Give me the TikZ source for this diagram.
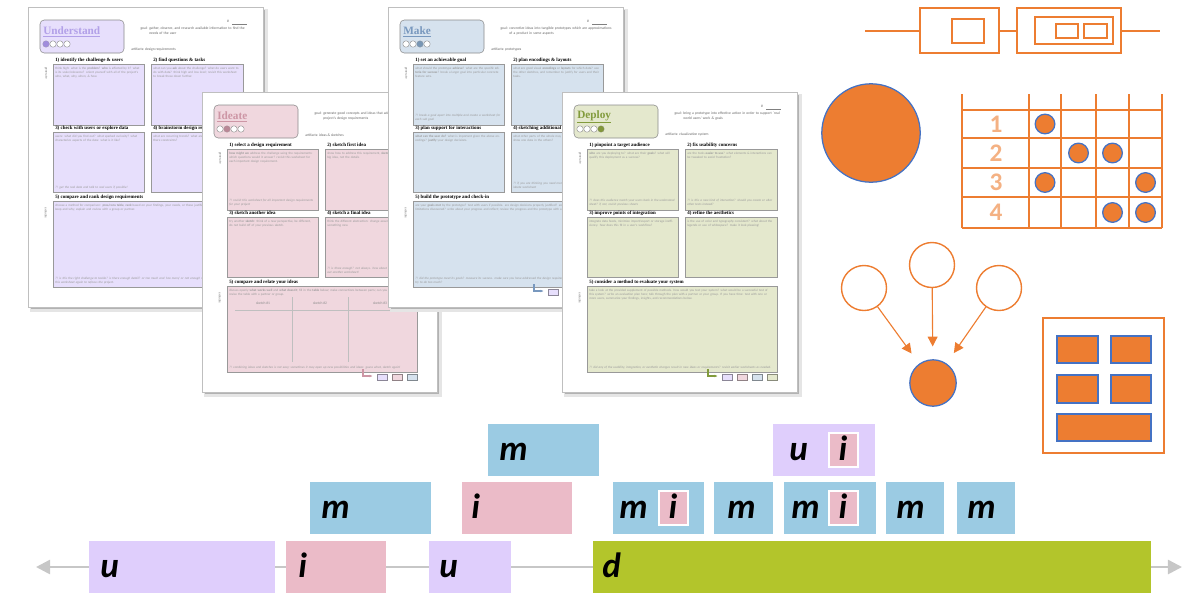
\documentclass[tikz,border=0pt]{standalone}
\usepackage{fontspec}
\newfontfamily\xcal{Carlito}
\newfontfamily\xser{Liberation Serif}
\usepackage{tikz}
\usetikzlibrary{arrows.meta, positioning}
\usepackage{xcolor}
\definecolor{xorange}{RGB}{237,125,49}
\definecolor{xorangelt}{RGB}{244,177,131}
\definecolor{xblue}{RGB}{68,114,196}
\definecolor{xlav}{RGB}{223,206,252}
\definecolor{xpink}{RGB}{235,187,200}
\definecolor{xsky}{RGB}{155,203,227}
\definecolor{xlime}{RGB}{179,197,43}
\definecolor{ubox}{RGB}{231,223,252}
\definecolor{udark}{RGB}{178,160,232}
\definecolor{udot}{RGB}{160,140,220}
\definecolor{ibox}{RGB}{240,215,222}
\definecolor{idark}{RGB}{205,150,165}
\definecolor{idot}{RGB}{185,135,150}
\definecolor{mbox}{RGB}{214,226,238}
\definecolor{mdark}{RGB}{120,152,190}
\definecolor{mdot}{RGB}{120,150,180}
\definecolor{dbox}{RGB}{228,232,205}
\definecolor{ddark}{RGB}{130,155,60}
\definecolor{ddot}{RGB}{130,150,60}
% one worksheet page, drawn inside a shifted scope
\newcommand{\xsheet}[6]{% id, colour prefix, title, filled dot, goal, artifacts
    \fill[black!10] (2,2) rectangle (240,305);
    \fill[black!30] (3,3) rectangle (237,302);
    \filldraw[fill=white, draw=black!25, line width=0.3pt] (0,0) rectangle (235,300);
    \filldraw[fill=#2box, draw=black!45, line width=0.4pt, rounded corners=3pt] (12,13) rectangle (96,46);
    \node[sheettitle, text=#2dark] (#1-title) at (15,25) {\underline{#3}};
    \foreach \k in {1,...,4}
        \filldraw[draw=black!45, line width=0.3pt, fill=white] (11+\k*7,37) circle[radius=3.2];
    \fill[#2dot] (11+#4*7,37) circle[radius=3.2];
    \node[sheetgoal, anchor=north east] (#1-goallab) at (120,20) {goal:};
    \node[sheetgoal, anchor=north west, text width=2.6cm] (#1-goal) at (121,20) {#5};
    \node[sheetgoal, anchor=west] (#1-art) at (103,43) {artifacts:\ #6};
    \node[sheetgoal] (#1-num) at (200,14) {\#};
    \draw[black!50, line width=0.3pt] (204,17) -- (219,17);
    \filldraw[fill=#2box, draw=black!40, line width=0.5pt] (25,57) rectangle (116,118);
    \filldraw[fill=#2box, draw=black!40, line width=0.5pt] (123,57) rectangle (215,118);
    \filldraw[fill=#2box, draw=black!40, line width=0.5pt] (25,125) rectangle (116,185);
    \filldraw[fill=#2box, draw=black!40, line width=0.5pt] (123,125) rectangle (215,185);
    \filldraw[fill=#2box, draw=black!40, line width=0.5pt] (25,194) rectangle (215,280);
    \node[sheetside] (#1-gen) at (18,66) {generate};
    \node[sheetside] (#1-eval) at (18,206) {evaluate};
}
\newcommand{\xheads}[6]{% id, five headings
    \node[sheethead] (#1-h1) at (27,53) {#2};
    \node[sheethead] (#1-h2) at (125,53) {#3};
    \node[sheethead] (#1-h3) at (27,121.5) {#4};
    \node[sheethead] (#1-h4) at (125,121.5) {#5};
    \node[sheethead] (#1-h5) at (27,190.5) {#6};
}
\newcommand{\xlinks}[2]{% colour prefix, number of boxes
    \pgfmathsetmacro{\linkx}{220-15*#2}%
    \draw[#1dark, line width=0.8pt, -{Latex[length=2.5pt]}] (\linkx-14,277) |- (\linkx-4,284);
    \foreach \c [count=\k] in {ubox,ibox,mbox,dbox}{%
        \ifnum\k>#2\relax\else
            \filldraw[fill=\c, draw=\c!60!black, line width=0.3pt] (\linkx+\k*15-15,282) rectangle +(10,6);
        \fi
    }
}
% one bar of the timeline
\newcommand{\xbar}[7]{% name, left, top, right, colour, letter, letter offset
    \fill[#5] (#2,#3) rectangle (#4,#3+52);
    \node[tlletter] (#1) at (#2+#7,#3+36) {#6};
}
\newcommand{\xinner}[3]{% name, left, top
    \filldraw[fill=xpink, draw=white, line width=1.6pt] (#2,#3+9) rectangle (#2+29,#3+43);
    \node[tlletter, anchor=base] (#1) at (#2+14,#3+36) {i};
}

\begin{document}
\begin{tikzpicture}[x=0.025cm, y=-0.025cm,
    sheettitle/.style={anchor=west, inner sep=0pt, font=\xser\bfseries\fontsize{8}{9}\selectfont},
    sheethead/.style={anchor=west, inner sep=0pt, font=\xser\bfseries\fontsize{3.5}{4}\selectfont},
    sheetgoal/.style={inner sep=0pt, text=black!60, align=left, font=\xcal\fontsize{2.6}{3.1}\selectfont},
    sheetside/.style={inner sep=0pt, rotate=-90, text=black!55, font=\xcal\fontsize{2.3}{2.8}\selectfont},
    sheetbody/.style={inner sep=0pt, anchor=north west, text width=2.15cm, align=left, text=black!40, font=\xcal\fontsize{2.3}{2.9}\selectfont},
    sheetnote/.style={sheetbody, anchor=south west, font=\xcal\itshape\fontsize{2.3}{2.9}\selectfont},
    tlletter/.style={anchor=base west, inner sep=0pt, font=\xcal\bfseries\itshape\fontsize{25}{25}\selectfont},
    tlaxis/.style={black!22, line width=1.8pt, {Triangle[length=10pt,width=10pt]}-{Triangle[length=10pt,width=10pt]}},
    orline/.style={draw=xorange, line width=2.1pt},
    dotc/.style={circle, fill=xorange, draw=xblue, line width=0.9pt, inner sep=0pt},
    ringc/.style={circle, fill=white, draw=xorange, line width=1pt, inner sep=0pt, minimum size=32pt},
    garrow/.style={xorange, line width=0.8pt, shorten >=9pt, -{Triangle[length=7pt,width=7pt]}},
    gridnum/.style={text=xorangelt, font=\xcal\bfseries\fontsize{18}{18}\selectfont},
    blockc/.style={fill=xorange, draw=xblue, line width=1pt}]
    \useasboundingbox (0,0) rectangle (1200,601);

    % ---------------- worksheets ----------------
    \begin{scope}[shift={(28,7)}]
        \xsheet{und}{u}{Understand}{1}{gather, observe, and research available information to find the needs of the user}{design requirements}
        \xheads{und}{1) identify the challenge \& users}{2) find questions \& tasks}{3) check with users or explore data}{4) brainstorm design requirements}{5) compare and rank design requirements}
        \node[sheetbody] (und-b1) at (27,60) {think high: what is the \textbf{problem}? \textbf{who} is affected by it? what is its scale/relevance? orient yourself with all of the project's who, what, why, when, \& how.};
        \node[sheetbody] (und-b2) at (125,60) {what can you \textbf{ask} about the challenge? what do users want to do with data? think high and low level; revisit this worksheet to break these down further.};
        \node[sheetbody] (und-b3) at (27,128) {users: what did you find out? what sparked curiosity? what characterize aspects of the data: what is it like?};
        \node[sheetbody] (und-b4) at (125,128) {what are recurring trends? what are the \textbf{opportunities}? are there constraints?};
        \node[sheetnote] (und-n3) at (27,182) {?! get the real data and talk to real users if possible!};
        \node[sheetbody, text width=4.6cm] (und-b5) at (27,197) {choose a method for comparison: \textbf{pros/cons table}, \textbf{rank} based on your findings, your needs, or these justifications, \& \textbf{pick top 3} to keep and why; explain and review with a group or partner.};
        \node[sheetnote, text width=4.6cm] (und-n5) at (27,277) {?! is this the right challenge to tackle? is there enough detail? or too much and `too many' or not enough requirements? complete this worksheet again to refocus the project.};
    \end{scope}

    \begin{scope}[shift={(202,92)}]
        \xsheet{ide}{i}{Ideate}{2}{generate good concepts and ideas that address some of the project's design requirements}{ideas \& sketches}
        \xheads{ide}{1) select a design requirement}{2) sketch first idea}{3) sketch another idea}{4) sketch a final idea}{5) compare and relate your ideas}
        \node[sheetbody] (ide-b1) at (27,60) {\textbf{how might we} address the challenge using the requirements: which questions would it answer? revisit this worksheet for each important design requirement.};
        \node[sheetnote] (ide-n1) at (27,114) {?! revisit this worksheet for all important design requirements for your project};
        \node[sheetbody] (ide-b2) at (125,60) {show how to address this requirement, \textbf{sketch}: focus on the big idea, not the details};
        \node[sheetbody] (ide-b3) at (27,128) {try another \textbf{sketch}: think of a new perspective, be different, do not build off of your previous sketch.};
        \node[sheetbody] (ide-b4) at (125,128) {think the different abstraction: change assumptions to \textbf{draw} something new};
        \node[sheetnote] (ide-n4) at (125,182) {?! is three enough? not always. how about other ideas? fill out another worksheet!};
        \node[sheetbody, text width=4.6cm] (ide-b5) at (27,197) {discuss openly \textbf{what works well} and \textbf{what doesn't}; fill in the \textbf{table} below; make connections between parts; can you \textbf{combine ideas}? revise the table with a partner or group.};
        \draw[black!25, line width=0.4pt] (90,205) -- (90,270) (146,205) -- (146,270) (33,218) -- (214,218);
        \node[sheetgoal, text=black!45] (ide-s1) at (61,211) {sketch \#1};
        \node[sheetgoal, text=black!45] (ide-s2) at (118,211) {sketch \#2};
        \node[sheetgoal, text=black!45] (ide-s3) at (178,211) {sketch \#3};
        \node[sheetnote, text width=4.6cm] (ide-n5) at (27,277) {?! combining ideas and sketches is not easy; sometimes it may open up new possibilities and ideas: guess what, sketch again!};
        \xlinks{i}{3}
    \end{scope}

    \begin{scope}[shift={(388,7)}]
        \xsheet{mak}{m}{Make}{3}{concretize ideas into tangible prototypes which are approximations of a product in some aspects}{prototypes}
        \xheads{mak}{1) set an achievable goal}{2) plan encodings \& layouts}{3) plan support for interactions}{4) sketching additional features}{5) build the prototype and check-in}
        \node[sheetbody] (mak-b1) at (27,60) {what should the prototype \textbf{achieve}? what are the specific \textbf{criteria for success}? break a larger goal into particular concrete feature sets.};
        \node[sheetnote] (mak-n1) at (27,114) {?! break a goal apart into multiple and create a worksheet for each sub goal};
        \node[sheetbody] (mak-b2) at (125,60) {what are good visual \textbf{encodings} or \textbf{layouts} for which data? use the other sketches, and remember to justify for users and their tasks.};
        \node[sheetbody] (mak-b3) at (27,128) {\textbf{what can the user do?} what is important given the above encodings? \textbf{justify} your design decisions.};
        \node[sheetbody] (mak-b4) at (125,128) {what other parts of the whole may need to be added? how to show one data in the others?};
        \node[sheetnote] (mak-n4) at (125,182) {?! if you are thinking you need more, consider, go back to the ideate worksheet};
        \node[sheetbody, text width=4.6cm] (mak-b5) at (27,197) {are your \textbf{goals met} by the prototype? test with users if possible. are design decisions properly justified? are any new constraints or limitations discovered? write about your progress and reflect; review the progress and the prototype with a partner or your group.};
        \node[sheetnote, text width=4.6cm] (mak-n5) at (27,277) {?! did the prototype meet its goals? measure its success. make sure you have addressed the design requirement. does the prototype try to do too much?};
        \xlinks{m}{4}
    \end{scope}

    \begin{scope}[shift={(562,92)}]
        \xsheet{dep}{d}{Deploy}{4}{bring a prototype into effective action in order to support `real world users' work \& goals}{visualization system}
        \xheads{dep}{1) pinpoint a target audience}{2) fix usability concerns}{3) improve points of integration}{4) refine the aesthetics}{5) consider a method to evaluate your system}
        \node[sheetbody] (dep-b1) at (27,60) {\textbf{who} are you deploying to? what are their \textbf{goals}? what will qualify this deployment as a success?};
        \node[sheetnote] (dep-n1) at (27,114) {?! does this audience match your users back in the understand sheet? if not, revisit previous sheets};
        \node[sheetbody] (dep-b2) at (125,60) {are the tools \textbf{easier to use}? what elements \& interactions can be tweaked to avoid frustration?};
        \node[sheetnote] (dep-n2) at (125,114) {?! is this a new kind of interaction? should you create or alter other tests instead?};
        \node[sheetbody] (dep-b3) at (27,128) {integrate data feeds, minimize import/export or storage inefficiency. how does this fit in a user's workflow?};
        \node[sheetbody] (dep-b4) at (125,128) {is the use of color and typography consistent? what about the legends or use of whitespace? make it look pleasing!};
        \node[sheetbody, text width=4.6cm] (dep-b5) at (27,197) {take a look at the provided supplement of possible methods. how would you test your system? what would be a successful test of this system? write an evaluation plan here; talk through the plan with a partner or your group. If you have time: test with one or more users, summarize your findings, insights, and recommendations below.};
        \node[sheetnote, text width=4.6cm] (dep-n5) at (27,277) {?! did any of the usability, integration, or aesthetic changes result in new ideas or requirements? revisit earlier worksheets as needed.};
        \xlinks{d}{4}
    \end{scope}

    % ---------------- pictograms ----------------
    % nested boxes on a line
    \draw[orline] (865,31) -- (920,31) (999,31) -- (1017,31) (1121,31) -- (1160,31);
    \draw[orline] (920,8) rectangle (999,53);
    \draw[orline, line width=1.6pt] (952,19) rectangle (984,43);
    \draw[orline] (1017,8) rectangle (1121,53);
    \draw[orline, line width=1.6pt] (1035,17) rectangle (1113,44);
    \draw[orline, line width=1.3pt] (1056,24) rectangle (1078,38);
    \draw[orline, line width=1.3pt] (1084,24) rectangle (1107,38);

    % single circle
    \node[dotc, minimum size=70pt] (big) at (871,133) {};

    % grid
    \draw[xorange, line width=1pt] (962,110) -- (1162,110) (962,138) -- (1162,138)
        (962,168) -- (1162,168) (962,197) -- (1162,197) (962,228) -- (1162,228);
    \foreach \x in {962,1029,1061,1096,1129,1162}
        \draw[xorange, line width=1pt] (\x,94) -- (\x,228);
    \foreach \n/\y in {1/124,2/153,3/182.5,4/212.5}
        \node[gridnum] (num-\n) at (996,\y) {\n};
    \foreach \x/\y/\n in {1045/124/a,1078.5/153/b,1112.5/153/c,1045/182.5/d,1145.5/182.5/e,1112.5/212.5/f,1145.5/212.5/g}
        \node[dotc, minimum size=14pt] (gd-\n) at (\x,\y) {};

    % three parents and a child
    \node[ringc] (g-l) at (864,288) {};
    \node[ringc] (g-m) at (932,265) {};
    \node[ringc] (g-r) at (999,288) {};
    \node[dotc, minimum size=33pt] (g-c) at (933,383) {};
    \draw[garrow] (g-l) -- (g-c);
    \draw[garrow] (g-m) -- (g-c);
    \draw[garrow] (g-r) -- (g-c);

    % layout
    \draw[xorange, line width=1.5pt] (1043,318) rectangle (1164,453);
    \draw[blockc] (1057,336) rectangle (1098,363);
    \draw[blockc] (1111,336) rectangle (1151,363);
    \draw[blockc] (1057,375) rectangle (1098,403);
    \draw[blockc] (1111,375) rectangle (1151,403);
    \draw[blockc] (1057,414) rectangle (1151,441);

    % ---------------- timeline ----------------
    \coordinate (tl-start) at (36,567);
    \coordinate (tl-end) at (1182,567);
    \draw[tlaxis] (tl-start) -- (tl-end);

    \xbar{b-u1}{89}{541}{275}{xlav}{u}{11}
    \xbar{b-i1}{286}{541}{386}{xpink}{i}{12}
    \xbar{b-u2}{429}{541}{511}{xlav}{u}{10}
    \xbar{b-d}{593}{541}{1151}{xlime}{d}{9}

    \xbar{b-m1}{310}{482}{431}{xsky}{m}{11}
    \xbar{b-i2}{462}{482}{572}{xpink}{i}{9}
    \xbar{b-m2}{613}{482}{704}{xsky}{m}{6}
    \xinner{b-i3}{659}{482}
    \xbar{b-m3}{714}{482}{773}{xsky}{m}{13}
    \xbar{b-m4}{784}{482}{876}{xsky}{m}{7}
    \xinner{b-i4}{829}{482}
    \xbar{b-m5}{886}{482}{944}{xsky}{m}{10}
    \xbar{b-m6}{957}{482}{1015}{xsky}{m}{10}

    \xbar{b-m7}{488}{424}{599}{xsky}{m}{11}
    \xbar{b-u3}{773}{424}{875}{xlav}{u}{16}
    \xinner{b-i5}{829}{424}

\end{tikzpicture}
\end{document}
